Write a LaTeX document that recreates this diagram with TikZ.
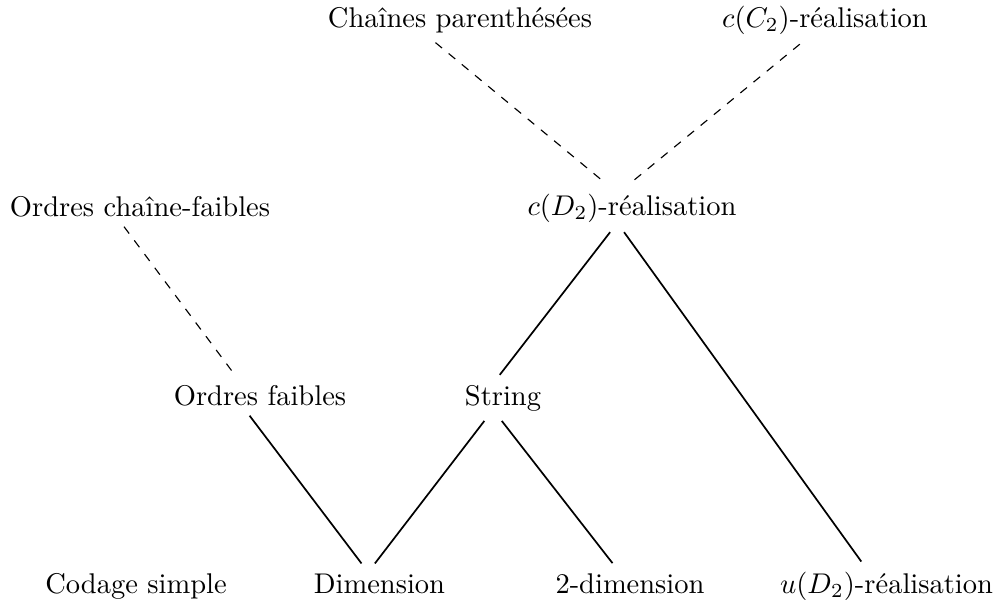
\documentclass[tikz,border=0pt]{standalone}
\begin{document}
\begin{tikzpicture}[x=0.35088pt,y=-0.35088pt,
  lbl/.style={anchor=base},
  solidedge/.style={line width=0.6pt},
  dashedge/.style={dashed,line width=0.4pt}]
\useasboundingbox (0,0) rectangle (999,600);
% row 1
\node[lbl] (ch)  at (460,27) {Chaînes parenthésées};
\node[lbl] (cC)  at (825,27) {$c(C_2)$-réalisation};
% row 2
\node[lbl] (ocf) at (140,216) {Ordres chaîne-faibles};
\node[lbl] (cD)  at (632,215) {$c(D_2)$-réalisation};
% row 3
\node[lbl] (of)  at (260,405) {Ordres faibles};
\node[lbl] (str) at (503,405) {String};
% row 4
\node[lbl] (cs)   at (136,593) {Codage simple};
\node[lbl] (dim)  at (379.5,593) {Dimension};
\node[lbl] (dim2) at (630,593) {2-dimension};
\node[lbl] (uD)   at (886.5,593) {$u(D_2)$-réalisation};
% edges
\draw[dashedge] (ch.223) -- (cD.137);
\draw[dashedge] (cC.224) -- (cD.95);
\draw[dashedge] (ocf.232) -- (of.141);
\draw[solidedge] (cD.228) -- (str.98);
\draw[solidedge] (cD.252) -- (uD.136);
\draw[solidedge] (of.243) -- (dim.132);
\draw[solidedge] (str.231) -- (dim.103);
\draw[solidedge] (str.267) -- (dim2.131);
\end{tikzpicture}
\end{document}
